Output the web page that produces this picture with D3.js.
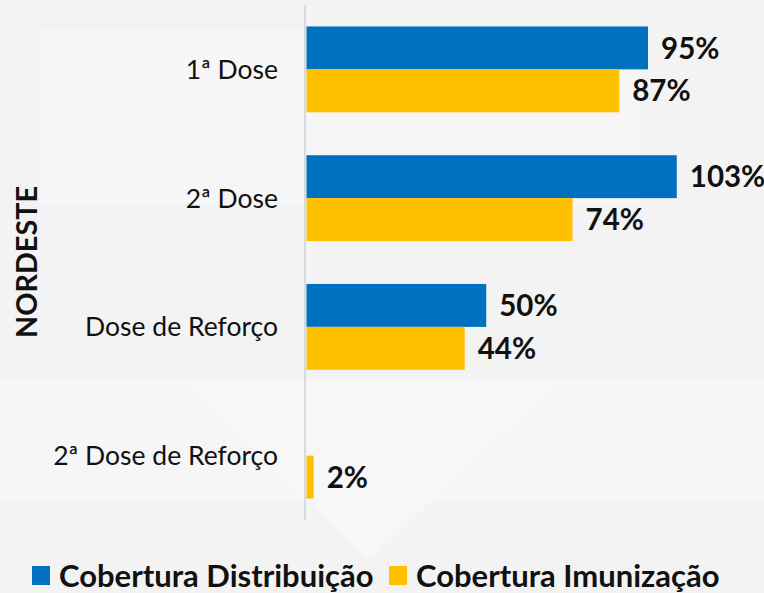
<!DOCTYPE html>
<html>
<head>
<meta charset="utf-8">
<script src="https://cdn.jsdelivr.net/npm/d3@7"></script>
<style>
  body { margin: 0; background: #f4f4f4; }
  svg { display: block; font-family: Lato, "Open Sans", sans-serif; }
</style>
</head>
<body>
<script>
// chart data
const categories = ["1ª Dose", "2ª Dose", "Dose de Reforço", "2ª Dose de Reforço"];
const seriesNames = ["Cobertura Distribuição", "Cobertura Imunização"];
const distribuicao = [95, 103, 50, null];
const imunizacao = [87, 74, 44, 2];
const regionLabel = "NORDESTE";

const width = 764;
const height = 593;
const colors = ["#0070C0", "#FFC000"];

const svg = d3.select('body')
  .append('svg')
  .attr('width', width)
  .attr('height', height);

// faint background shapes
const bg = svg.append('g');
bg.append('rect').attr('width', width).attr('height', height).attr('fill', '#f3f3f3');
bg.append('path').attr('d', 'M40,30L640,30L640,205L40,205Z').attr('fill', '#f6f6f6');
bg.append('path').attr('d', 'M0,380L764,380L764,500L0,500Z').attr('fill', '#f6f6f6');
bg.append('path').attr('d', 'M180,380L560,380L370,560Z').attr('fill', '#f7f7f7');

// scales
const x = d3.scaleLinear()
  .domain([0, 100])
  .range([306.5, 666]);

const y = d3.scaleBand()
  .domain(categories)
  .range([5, 520])
  .paddingInner(1 / 3)
  .paddingOuter(1 / 6);

const ySub = d3.scaleBand()
  .domain([0, 1])
  .range([0, y.bandwidth()]);

// rows of data for the bars
const rows = [];
categories.forEach((c, i) => {
  [distribuicao[i], imunizacao[i]].forEach((v, s) => {
    if (v != null) rows.push({cat: c, series: s, value: v});
  });
});

// axis line
svg.append('line')
  .attr('x1', x(0) - 1.5).attr('x2', x(0) - 1.5)
  .attr('y1', 5).attr('y2', 520)
  .attr('stroke', '#d6dbe3')
  .attr('stroke-width', 2);

// bars
svg.append('g').selectAll('rect')
  .data(rows)
  .join('rect')
  .attr('x', x(0))
  .attr('y', (d) => y(d.cat) + ySub(d.series))
  .attr('width', (d) => x(d.value) - x(0))
  .attr('height', ySub.bandwidth())
  .attr('fill', (d) => colors[d.series]);

// value labels
svg.append('g').selectAll('text')
  .data(rows)
  .join('text')
  .attr('x', (d) => x(d.value) + 13)
  .attr('y', (d) => y(d.cat) + ySub(d.series) + ySub.bandwidth() / 2)
  .attr('dy', '0.36em')
  .attr('font-size', 29.5)
  .attr('font-weight', 'bold')
  .attr('fill', '#111')
  .text((d) => d.value + '%');

// category labels
svg.append('g').selectAll('text')
  .data(categories)
  .join('text')
  .attr('x', 278)
  .attr('y', (d) => y(d) + y.bandwidth() / 2)
  .attr('dy', '0.36em')
  .attr('text-anchor', 'end')
  .attr('font-size', 26.5)
  .attr('fill', '#111')
  .text((d) => d);

// region title
svg.append('text')
  .attr('transform', 'translate(27,262) rotate(-90)')
  .attr('text-anchor', 'middle')
  .attr('dy', '0.36em')
  .attr('font-size', 28.8)
  .attr('font-weight', 'bold')
  .attr('fill', '#111')
  .text(regionLabel);

// legend
const legendX = [32, 389];
const legend = svg.append('g').selectAll('g')
  .data(seriesNames)
  .join('g')
  .attr('transform', (d, i) => `translate(${legendX[i]},566)`);

legend.append('rect')
  .attr('width', 18)
  .attr('height', 19)
  .attr('fill', (d, i) => colors[i]);

legend.append('text')
  .attr('x', 27)
  .attr('y', 9.5)
  .attr('dy', '0.36em')
  .attr('font-size', 31)
  .attr('font-weight', 'bold')
  .attr('fill', '#111')
  .text((d) => d);
</script>
</body>
</html>
